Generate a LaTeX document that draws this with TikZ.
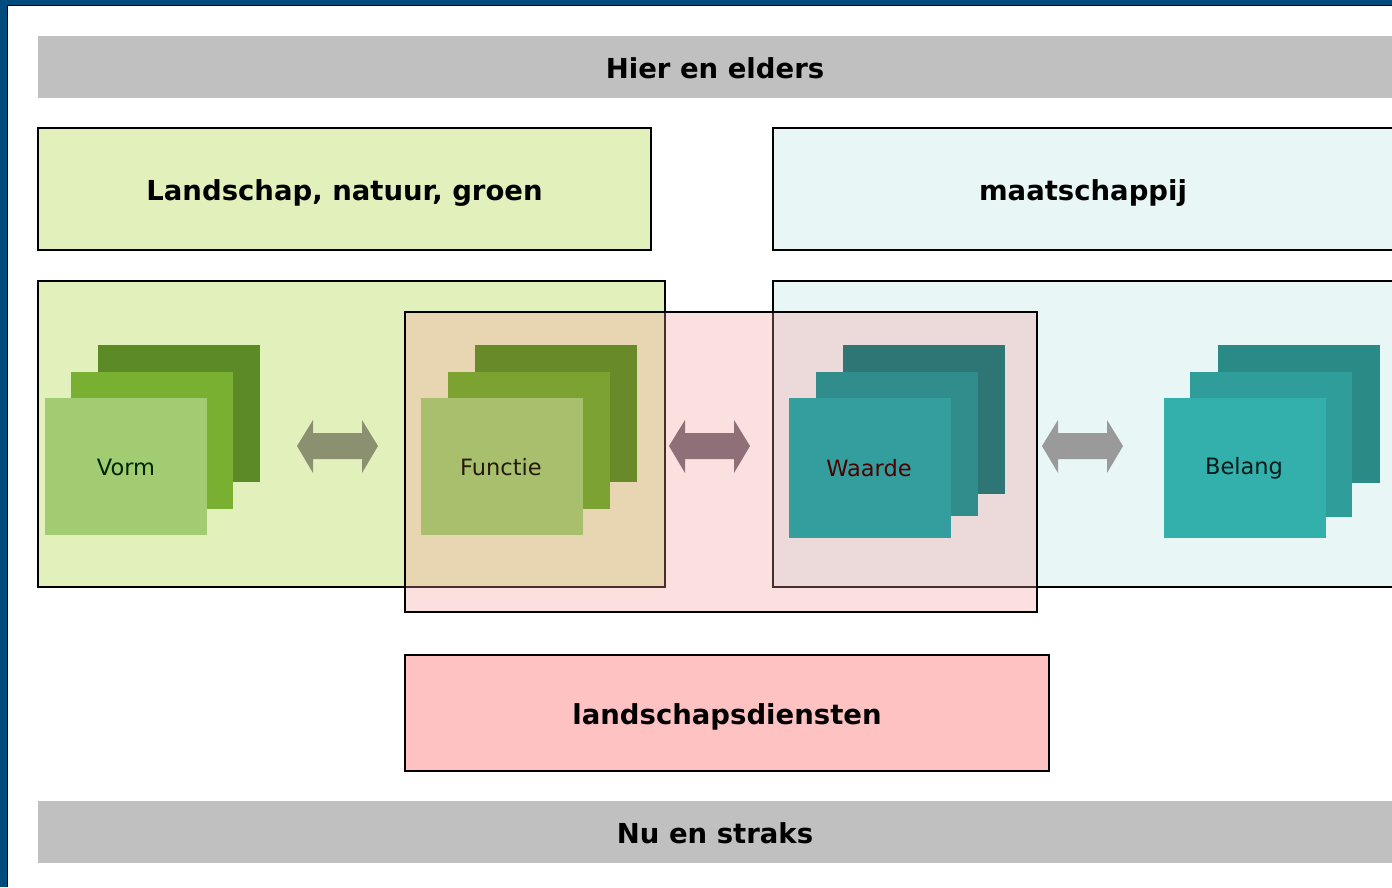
\documentclass[tikz,border=0pt]{standalone}
\usepackage{fontspec}
\setmainfont{DejaVu Sans}
\begin{document}
\begin{tikzpicture}[x=1pt,y=-1pt,
  box/.style={draw=black,line width=2pt,anchor=north west,inner sep=0pt,outer sep=0pt},
  bar/.style={fill=barGray,anchor=north west,inner sep=0pt,outer sep=0pt,minimum height=62pt},
  title/.style={font=\fontsize{27.5}{32}\selectfont\bfseries,text=black},
  slab/.style={anchor=north west,inner sep=0pt,outer sep=0pt,minimum width=162pt,minimum height=137pt},
  tslab/.style={slab,minimum height=142pt},
  stacklabel/.style={font=\fontsize{22.5}{26}\selectfont}
]
\definecolor{frameBlue}{HTML}{004C7F}
\definecolor{barGray}{HTML}{C0C0C0}
\definecolor{lgreen}{HTML}{E2F1BC}
\definecolor{lcyan}{HTML}{E9F6F6}
\definecolor{pinkA}{HTML}{F49A9A}
\definecolor{pinkB}{HTML}{FFC2C2}
\definecolor{gBack}{HTML}{5C8A26}
\definecolor{gMid}{HTML}{7AB032}
\definecolor{gFront}{HTML}{A2CC72}
\definecolor{fBack}{HTML}{688A28}
\definecolor{fMid}{HTML}{7CA232}
\definecolor{fFront}{HTML}{A8C06E}
\definecolor{wBack}{HTML}{2E7676}
\definecolor{wMid}{HTML}{318C8C}
\definecolor{wFront}{HTML}{349E9E}
\definecolor{bBack}{HTML}{2A8A86}
\definecolor{bMid}{HTML}{2F9E9A}
\definecolor{bFront}{HTML}{33B0AC}
\useasboundingbox (0,0) rectangle (1392,887);
% frame
\fill[frameBlue] (0,0) rectangle (1392,887);
\fill[white] (8,6) rectangle (1392,887);
\draw[black,line width=1.2pt] (7.5,887) -- (7.5,5.5) -- (1392,5.5);
% bars
\node[bar,minimum width=1354pt] (hier) at (38,36) {};
\node[title] at ([yshift=-1pt]hier.center) {Hier en elders};
\node[bar,minimum width=1354pt] (nu) at (38,801) {};
\node[title] at ([yshift=-1pt]nu.center) {Nu en straks};
% header boxes
\node[box,fill=lgreen,minimum width=613pt,minimum height=122pt] (lng) at (38,128) {};
\node[title] at ([yshift=-4pt]lng.center) {Landschap, natuur, groen};
\node[box,fill=lcyan,minimum width=630pt,minimum height=122pt] (maat) at (773,128) {};
\node[title] at ([xshift=-5pt,yshift=-4pt]maat.center) {maatschappij};
% big boxes
\node[box,fill=lgreen,minimum width=627pt,minimum height=306pt] (bigG) at (38,281) {};
\node[box,fill=lcyan,minimum width=630pt,minimum height=306pt] (bigC) at (773,281) {};
\node[box,fill=pinkA,fill opacity=0.3,minimum width=632pt,minimum height=300pt] (bigP) at (405,312) {};
% landschapsdiensten
\node[box,fill=pinkB,minimum width=644pt,minimum height=116pt] (ld) at (405,655) {};
\node[title] at ([yshift=-4pt]ld.center) {landschapsdiensten};
% Vorm stack
\node[slab,fill=gBack] (vormC) at (98,345) {};
\node[slab,fill=gMid] (vormB) at (71,372) {};
\node[slab,fill=gFront] (vormA) at (45,398) {};
\node[stacklabel,text=black!85!green] at (126,467) {Vorm};
% Functie stack
\node[slab,fill=fBack] (funcC) at (475,345) {};
\node[slab,fill=fMid] (funcB) at (448,372) {};
\node[slab,fill=fFront] (funcA) at (421,398) {};
\node[stacklabel,text=black!80!brown] at (501,467) {Functie};
% Waarde stack
\node[tslab,fill=wBack,minimum height=149pt] (waarC) at (843,345) {};
\node[tslab,fill=wMid,minimum height=144pt] (waarB) at (816,372) {};
\node[tslab,fill=wFront,minimum height=140pt] (waarA) at (789,398) {};
\node[stacklabel,text=black!70!red] at (869,468) {Waarde};
% Belang stack
\node[tslab,fill=bBack,minimum height=138pt] (belC) at (1218,345) {};
\node[tslab,fill=bMid,minimum height=145pt] (belB) at (1190,372) {};
\node[tslab,fill=bFront,minimum height=140pt] (belA) at (1164,398) {};
\node[stacklabel,text=black!80!teal] at (1244,468) {Belang};
% double arrows
\newcommand\dblarrow[2]{%
  \fill[#2] (#1,446) -- ++(16,-26) -- ++(0,13) -- ++(49,0) -- ++(0,-13) -- ++(16,26)
     -- ++(-16,27) -- ++(0,-14) -- ++(-49,0) -- ++(0,14) -- cycle;}
\definecolor{arA}{HTML}{8A9070}
\definecolor{arB}{HTML}{907078}
\definecolor{arC}{HTML}{9A9A9A}
\dblarrow{297}{arA}
\dblarrow{669}{arB}
\dblarrow{1042}{arC}
\coordinate (a1) at (337,446);
\coordinate (a2) at (709,446);
\coordinate (a3) at (1082,446);
\end{tikzpicture}
\end{document}
